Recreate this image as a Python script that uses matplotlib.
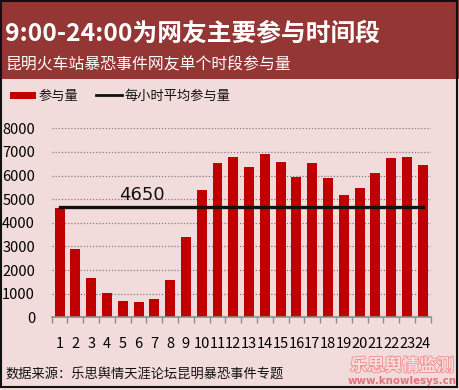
import matplotlib
matplotlib.use("Agg")
import matplotlib.pyplot as plt
from matplotlib.patches import Rectangle
from matplotlib.lines import Line2D
import matplotlib.patheffects as pe
import numpy as np

plt.rcParams['font.family'] = ['Noto Sans CJK SC', 'DejaVu Sans']

hours = [str(i) for i in range(1, 25)]
values = [4640, 2890, 1670, 1040, 700, 660, 790, 1580, 3420, 5400, 6540, 6790,
          6370, 6920, 6580, 5940, 6540, 5900, 5180, 5480, 6110, 6750, 6790, 6450]
avg_value = 4650
yticks = [0, 1000, 2000, 3000, 4000, 5000, 6000, 7000, 8000]

title = "9:00-24:00为网友主要参与时间段"
subtitle = "昆明火车站暴恐事件网友单个时段参与量"
source = "数据来源：乐思舆情天涯论坛昆明暴恐事件专题"
bar_label = "参与量"
line_label = "每小时平均参与量"

bg = '#F2DCDB'
band = '#943634'
bar_color = '#C00000'

W, H = 459, 390
fig = plt.figure(figsize=(W/100, H/100), dpi=100, facecolor=bg)

# Title band
fig.patches.append(Rectangle((0, 1 - 79/H), 1, 79/H, transform=fig.transFigure,
                             facecolor=band, edgecolor='none', zorder=0))
fig.text(5/W, 1 - 34/H, title, color='white', fontsize=17.8, fontweight='bold',
         va='center', ha='left')
fig.text(5/W, 1 - 65/H, subtitle, color='white', fontsize=11.4,
         va='center', ha='left')

ax = fig.add_axes([51.7/W, 1 - 317.3/H, (430.7 - 51.7)/W, (317.3 - 128.3)/H])
ax.set_facecolor(bg)
x = np.arange(len(hours))
ax.bar(x, values, width=0.63, color=bar_color, zorder=2)
ax.plot([x[0], x[-1]], [avg_value, avg_value], color='#111111', lw=2.4, zorder=3)
ax.text(5.2, avg_value + 150, str(avg_value), fontsize=13, ha='center', va='bottom',
        color='#111111', family=['DejaVu Sans'])

ax.set_xlim(-0.5, len(hours) - 0.5)
ax.set_ylim(0, 8000)
ax.set_yticks(yticks)
ax.set_yticklabels([str(v) for v in yticks], fontsize=10.5)
ax.tick_params(axis='y', length=0, pad=12)
ax.yaxis.grid(True, linestyle=(0, (1, 1.5)), color='#7f7f7f', lw=0.9, zorder=1)
ax.set_axisbelow(True)

ax.set_xticks(x)
ax.set_xticklabels(hours, fontsize=10.5)
ax.tick_params(axis='x', length=0, pad=14)
ax.set_xticks(np.arange(-0.5, len(hours)), minor=True)
ax.tick_params(axis='x', which='minor', length=4, color='#8c8c8c', width=1)

for s in ['top', 'right', 'left']:
    ax.spines[s].set_visible(False)
ax.spines['bottom'].set_color('#8c8c8c')
ax.spines['bottom'].set_linewidth(1.2)

# Legend
fig.patches.append(Rectangle((10/W, 1 - 99/H), 26/W, 7/H, transform=fig.transFigure,
                             facecolor=bar_color, edgecolor='none'))
fig.text(39/W, 1 - 96/H, bar_label, fontsize=9.5, va='center', ha='left', color='#111111')
fig.lines.append(Line2D([96/W, 122/W], [1 - 94.5/H, 1 - 94.5/H], transform=fig.transFigure,
                        color='#111111', lw=2))
fig.text(125/W, 1 - 96/H, line_label, fontsize=9.5, va='center', ha='left', color='#111111')

# Source
fig.text(5/W, 1 - 375/H, source, fontsize=9.5, va='center', ha='left', color='#111111')

# Border
fig.patches.append(Rectangle((1/W, 3/H), (W - 3)/W, (H - 4)/H, transform=fig.transFigure,
                             facecolor='none', edgecolor='#111111', lw=1.5, zorder=10))

# Watermark
fig.text(402/W, 1 - 366/H, "乐思舆情监测", fontsize=12.5, fontweight='bold',
         va='center', ha='center', color='#F9DEDE', zorder=20,
         path_effects=[pe.withStroke(linewidth=1.2, foreground='#EE8C8C')])
fig.text(402/W, 1 - 381/H, "www.knowlesys.cn", fontsize=7.4, fontweight='bold',
         va='center', ha='center', color='#E4707C', family=['DejaVu Sans'], zorder=20)

fig.savefig('out.png', dpi=100, facecolor=bg)
